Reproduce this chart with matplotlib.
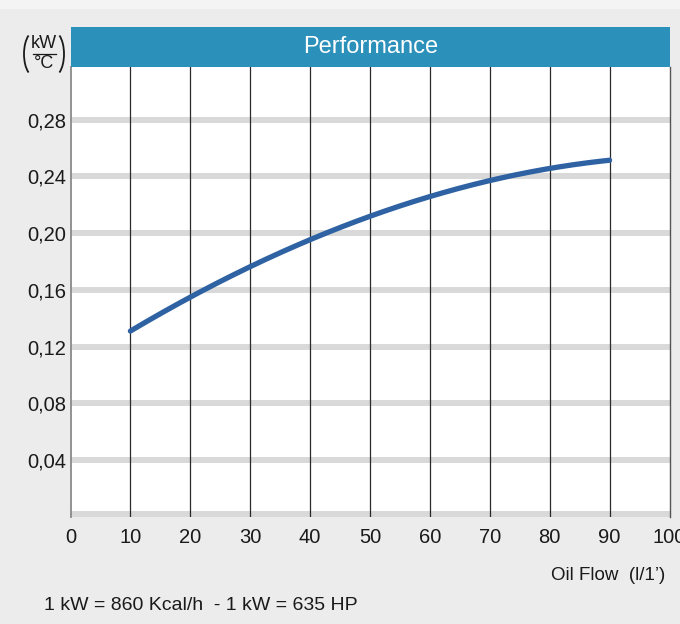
import numpy as np
import matplotlib.pyplot as plt
from matplotlib.patches import Rectangle, Arc
from matplotlib.lines import Line2D

plt.rcParams['font.family'] = ['Liberation Sans', 'DejaVu Sans']

# data
oil_flow = [10, 20, 30, 40, 50, 60, 70, 80, 90]
performance = [0.131, 0.155, 0.176, 0.1955, 0.212, 0.2257, 0.237, 0.2454, 0.2514]
y_ticks = [0.04, 0.08, 0.12, 0.16, 0.20, 0.24, 0.28]
y_labels = ["0,04", "0,08", "0,12", "0,16", "0,20", "0,24", "0,28"]
x_ticks = [0, 10, 20, 30, 40, 50, 60, 70, 80, 90, 100]

W, H = 680, 624
fig = plt.figure(figsize=(W / 100, H / 100), dpi=100)
fig.patch.set_facecolor('#ebeceb')
fig.patches.append(Rectangle((0, 1 - 9 / H), 1, 9 / H, transform=fig.transFigure,
                             facecolor='#f4f4f4', edgecolor='none', zorder=0))

l, r, b, t = 70.5 / W, 669.5 / W, 1 - 517 / H, 1 - 67 / H
ax = fig.add_axes([l, b, r - l, t - b])
ax.set_facecolor('white')
ax.set_xlim(0, 100)
ax.set_ylim(0, 0.317)

# horizontal grey bands
for yv in y_ticks:
    ax.axhline(yv, color='#d9d9d9', lw=4.3, zorder=1)
ax.axhline(0.0018, color='#d9d9d9', lw=4.3, zorder=1)
# vertical lines
for xv in oil_flow:
    ax.axvline(xv, color='#2a2a2a', lw=0.9, zorder=2)

# curve (smoothed through the read points)
xs = np.linspace(oil_flow[0], oil_flow[-1], 200)
coef = np.polyfit(oil_flow, performance, 3)
ax.plot(xs, np.polyval(coef, xs), color='#2e62a3', lw=3.8,
        solid_capstyle='round', zorder=3)

for s in ['top', 'bottom']:
    ax.spines[s].set_visible(False)
ax.spines['left'].set_color('#8a8a8a')
ax.spines['left'].set_linewidth(1.3)
ax.spines['right'].set_color('#555555')
ax.spines['right'].set_linewidth(1.0)

ax.set_yticks(y_ticks)
ax.set_yticklabels(y_labels, fontsize=14.5, color='#1a1a1a')
ax.set_xticks(x_ticks)
ax.set_xticklabels([str(v) for v in x_ticks], fontsize=14.5, color='#1a1a1a')
ax.tick_params(axis='y', length=0, pad=3)
ax.tick_params(axis='x', length=0, pad=8)

# title bar
fig.patches.append(Rectangle((l, t), 670 / W - l, 40 / H, transform=fig.transFigure,
                             facecolor='#2b91bb', edgecolor='none', zorder=1))
fig.text(371 / W, 1 - 47 / H, "Performance", color='white', fontsize=17,
         ha='center', va='center')

# unit label: (kW / °C)
fig.text(44 / W, 1 - 43 / H, "kW", fontsize=13, ha='center', va='center', color='#1a1a1a')
fig.text(44 / W, 1 - 64 / H, "°C", fontsize=13, ha='center', va='center', color='#1a1a1a')
fig.lines.append(Line2D([33 / W, 56 / W], [1 - 53.5 / H, 1 - 53.5 / H],
                        transform=fig.transFigure, color='#1a1a1a', lw=0.9))
fig.patches.append(Arc((34 / W, 1 - 54 / H), 20 / W, 44 / H, theta1=105, theta2=255,
                       transform=fig.transFigure, color='#1a1a1a', lw=1.3))
fig.patches.append(Arc((54 / W, 1 - 54 / H), 20 / W, 44 / H, theta1=-75, theta2=75,
                       transform=fig.transFigure, color='#1a1a1a', lw=1.3))

fig.text(665 / W, 1 - 575 / H, "Oil Flow  (l/1\u2019)", fontsize=13.5,
         ha='right', va='center', color='#1a1a1a')
fig.text(44 / W, 1 - 606 / H, "1 kW = 860 Kcal/h  - 1 kW = 635 HP", fontsize=14,
         ha='left', va='center', color='#1a1a1a')

fig.savefig('out.png', dpi=100, facecolor=fig.get_facecolor())
